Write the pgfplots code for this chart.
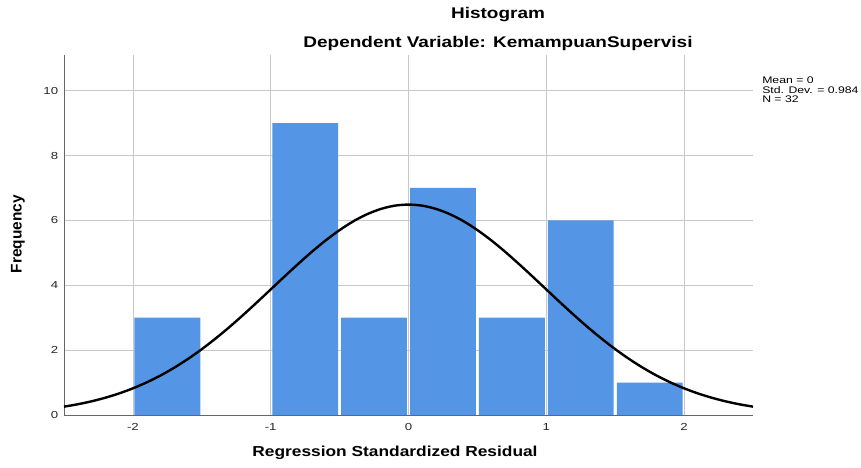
\documentclass[border=0pt]{standalone}
\usepackage{fontspec}
\setmainfont{Liberation Sans}
\usepackage{pgfplots}
\pgfplotsset{compat=1.18}
\definecolor{barblue}{HTML}{5595E5}
\definecolor{gridgray}{HTML}{C8C8C8}
\begin{document}
\begin{tikzpicture}[x=1bp,y=1bp]
\begin{axis}[at={(64bp,53bp)}, anchor=south west, scale only axis, width=689bp, height=360bp,
  xmin=-2.5, xmax=2.5, ymin=0, ymax=11.1,
  axis x line*=bottom, axis y line*=left,
  axis line style={-, black!60, line width=0.9bp},
  xtick={-2,-1,0,1,2}, ytick={0,2,4,6,8,10},
  major tick length=0pt,
  grid=major, major grid style={gridgray, line width=0.8bp},
  ticklabel style={font=\fontsize{10.2}{12}\selectfont, text=black!85, xscale=1.3},
  /pgf/number format/assume math mode=true,
  xticklabel style={yshift=-5bp}, yticklabel style={xshift=-1bp},
  clip=false,
]
\addplot[ybar, bar width=0.4775, bar shift=0pt, fill=barblue, draw=none]
  coordinates {(-1.75,3) (-0.75,9) (-0.25,3) (0.25,7) (0.75,3) (1.25,6) (1.75,1)};
\addplot[black, line width=2.4bp, smooth, no marks] coordinates {
(-2.5,0.257) (-2.4,0.331) (-2.3,0.422) (-2.2,0.533) (-2.1,0.665) (-2.0,0.822)
(-1.9,1.006) (-1.8,1.217) (-1.7,1.459) (-1.6,1.730) (-1.5,2.030) (-1.4,2.358)
(-1.3,2.710) (-1.2,3.084) (-1.1,3.473) (-1.0,3.871) (-0.9,4.270) (-0.8,4.661)
(-0.7,5.037) (-0.6,5.387) (-0.5,5.701) (-0.4,5.973) (-0.3,6.192) (-0.2,6.354)
(-0.1,6.454) (0,6.487) (0.1,6.454) (0.2,6.354) (0.3,6.192) (0.4,5.973)
(0.5,5.701) (0.6,5.387) (0.7,5.037) (0.8,4.661) (0.9,4.270) (1.0,3.871)
(1.1,3.473) (1.2,3.084) (1.3,2.710) (1.4,2.358) (1.5,2.030) (1.6,1.730)
(1.7,1.459) (1.8,1.217) (1.9,1.006) (2.0,0.822) (2.1,0.665) (2.2,0.533)
(2.3,0.422) (2.4,0.331) (2.5,0.257)};
\end{axis}
\node[anchor=base, xscale=1.23, font=\bfseries\fontsize{15.5}{17}\selectfont] at (498,449) {Histogram};
\node[anchor=base, xscale=1.23, font=\bfseries\fontsize{15.5}{17}\selectfont] at (498,420) {Dependent Variable: KemampuanSupervisi};
\node[anchor=base, xscale=1.2, font=\bfseries\fontsize{14.5}{17}\selectfont] at (395,11) {Regression Standardized Residual};
\node[rotate=90, font=\bfseries\fontsize{15.5}{17}\selectfont] at (18,234) {Frequency};
\node[anchor=north west, xscale=1.28, align=left, inner sep=0pt, font=\fontsize{9.6}{9.2}\selectfont] at (762,391) {Mean = 0\\Std. Dev. = 0.984\\N = 32};
\pgfresetboundingbox
\path[use as bounding box] (0,0) rectangle (861,468);
\end{tikzpicture}
\end{document}
